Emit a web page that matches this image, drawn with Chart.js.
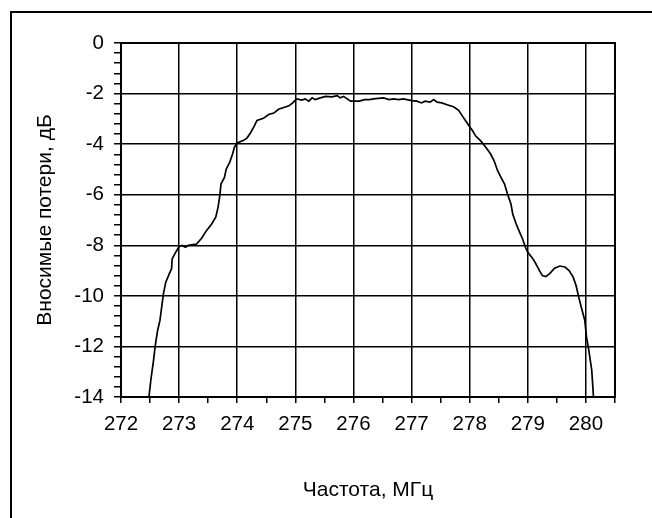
<!DOCTYPE html>
<html>
<head>
<meta charset="utf-8">
<script src="https://cdn.jsdelivr.net/npm/chart.js@4.4.1/dist/chart.umd.min.js"></script>
<style>
  html, body { margin: 0; padding: 0; background: #fff; }
  #wrap { position: relative; width: 652px; height: 518px; }
</style>
</head>
<body>
<div id="wrap"><canvas id="lossChart" width="652" height="518"></canvas></div>
<script>
// --- Data ---
const freqMHz = [
  272.48, 272.52, 272.56, 272.59, 272.63, 272.67, 272.70, 272.73, 272.77, 272.83,
  272.87, 272.88, 272.94, 273.00, 273.05, 273.11, 273.16, 273.30, 273.39, 273.47,
  273.56, 273.63, 273.67, 273.70, 273.72, 273.78, 273.81, 273.87, 273.92, 273.95,
  274.00, 274.11, 274.17, 274.23, 274.29, 274.34, 274.45, 274.54, 274.63, 274.71,
  274.80, 274.89, 274.95, 275.00, 275.03, 275.11, 275.17, 275.23, 275.29, 275.34,
  275.43, 275.52, 275.63, 275.72, 275.77, 275.83, 275.95, 276.00, 276.10, 276.19,
  276.27, 276.38, 276.52, 276.61, 276.69, 276.78, 276.86, 277.00, 277.09, 277.17,
  277.23, 277.32, 277.38, 277.44, 277.52, 277.61, 277.72, 277.81, 277.90, 277.99,
  278.05, 278.10, 278.19, 278.28, 278.36, 278.42, 278.48, 278.54, 278.60, 278.65,
  278.71, 278.74, 278.80, 278.86, 278.91, 278.96, 279.00, 279.09, 279.14, 279.20,
  279.25, 279.31, 279.38, 279.46, 279.55, 279.64, 279.71, 279.78, 279.83, 279.87,
  279.92, 279.98, 280.01, 280.05, 280.10, 280.13
];
const lossDb = [
  -14.00, -13.21, -12.55, -11.96, -11.37, -10.97, -10.45, -9.92, -9.46, -9.13,
  -8.93, -8.54, -8.28, -8.05, -8.01, -8.08, -8.00, -7.95, -7.71, -7.42,
  -7.16, -6.89, -6.50, -6.04, -5.58, -5.32, -4.99, -4.72, -4.39, -4.13,
  -3.95, -3.85, -3.75, -3.55, -3.30, -3.06, -2.98, -2.83, -2.77, -2.62,
  -2.55, -2.48, -2.38, -2.26, -2.21, -2.26, -2.21, -2.30, -2.17, -2.24,
  -2.17, -2.11, -2.13, -2.08, -2.17, -2.11, -2.30, -2.30, -2.30, -2.24,
  -2.24, -2.20, -2.17, -2.24, -2.21, -2.24, -2.21, -2.28, -2.30, -2.37,
  -2.30, -2.34, -2.24, -2.34, -2.37, -2.44, -2.52, -2.66, -2.98, -3.28,
  -3.47, -3.67, -3.87, -4.13, -4.39, -4.66, -5.05, -5.32, -5.58, -5.97,
  -6.37, -6.76, -7.16, -7.49, -7.75, -8.08, -8.28, -8.54, -8.74, -9.00,
  -9.20, -9.24, -9.11, -8.91, -8.82, -8.86, -9.00, -9.26, -9.59, -9.99,
  -10.45, -10.97, -11.63, -12.16, -12.95, -14.00
];

// --- Tick labels ---
const xTickLabels = [272, 273, 274, 275, 276, 277, 278, 279, 280];
const yTickLabels = [0, -2, -4, -6, -8, -10, -12, -14];

const isLabelled = (list, v) => list.some(t => Math.abs(t - v) < 1e-6);

const points = freqMHz.map((f, i) => ({ x: f, y: lossDb[i] }));

// outer frame + plot box
const framePlugin = {
    id: 'frame',
    beforeDraw(chart) {
        const ctx = chart.ctx;
        ctx.save();
        ctx.strokeStyle = '#000';
        ctx.lineWidth = 2;
        ctx.beginPath();
        ctx.moveTo(11, chart.height + 2);
        ctx.lineTo(11, 12);
        ctx.lineTo(chart.width + 2, 12);
        ctx.stroke();
        ctx.restore();
    },
    afterDatasetsDraw(chart) {
        const { left, top, width, height } = chart.chartArea;
        const ctx = chart.ctx;
        ctx.save();
        ctx.strokeStyle = '#000';
        ctx.lineWidth = 2;
        ctx.strokeRect(left, top, width, height);
        ctx.restore();
    }
};

const tickFont = { family: '"Liberation Sans", Arial, sans-serif', size: 20.5 };
const titleFont = { family: '"Liberation Sans", Arial, sans-serif', size: 21 };

new Chart(document.getElementById('lossChart').getContext('2d'), {
    type: 'line',
    data: {
        datasets: [{
            data: points,
            borderColor: '#000',
            borderWidth: 1.7,
            pointRadius: 0,
            tension: 0,
            fill: false
        }]
    },
    options: {
        responsive: false,
        animation: false,
        devicePixelRatio: 1,
        layout: { padding: { top: 43, right: 37, left: 0, bottom: 0 } },
        plugins: {
            legend: { display: false },
            tooltip: { enabled: false }
        },
        scales: {
            x: {
                type: 'linear',
                min: 272,
                max: 280.5,
                afterFit: (scale) => { scale.height = 121; },
                ticks: {
                    stepSize: 0.5,
                    autoSkip: false,
                    maxRotation: 0,
                    padding: 9,
                    color: '#000',
                    font: tickFont,
                    callback: (v) => isLabelled(xTickLabels, v) ? String(v) : ''
                },
                grid: {
                    color: (c) => isLabelled(xTickLabels, c.tick.value) ? '#000' : 'rgba(0,0,0,0)',
                    tickColor: '#000',
                    lineWidth: 1.5,
                    tickLength: 6
                },
                border: { color: '#000', width: 2 },
                title: {
                    display: true,
                    text: 'Частота, МГц',
                    color: '#000',
                    font: titleFont,
                    padding: { top: 0, bottom: 15 }
                }
            },
            y: {
                min: -14,
                max: 0,
                afterFit: (scale) => { scale.width = 121; },
                ticks: {
                    stepSize: 0.4,
                    autoSkip: false,
                    padding: 10,
                    color: '#000',
                    font: tickFont,
                    callback: (v) => isLabelled(yTickLabels, v) ? String(Math.round(v)) : ''
                },
                grid: {
                    color: (c) => isLabelled(yTickLabels, c.tick.value) ? '#000' : 'rgba(0,0,0,0)',
                    tickColor: '#000',
                    lineWidth: 1.5,
                    tickLength: 7
                },
                border: { color: '#000', width: 2 },
                title: {
                    display: true,
                    text: 'Вносимые потери, дБ',
                    color: '#000',
                    font: titleFont,
                    padding: { top: 33, bottom: 0 }
                }
            }
        }
    },
    plugins: [framePlugin]
});
</script>
</body>
</html>
